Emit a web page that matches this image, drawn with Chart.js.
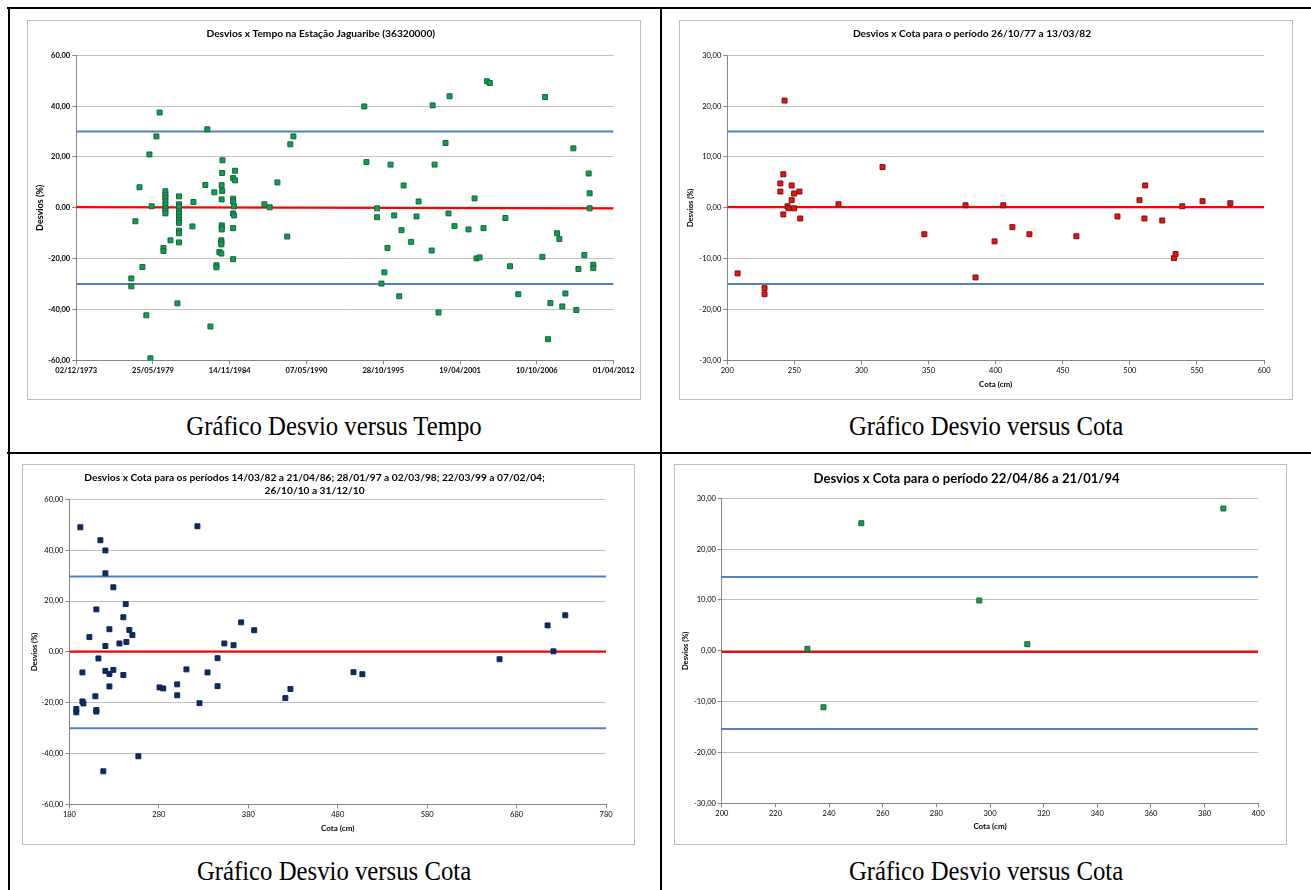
<!DOCTYPE html>
<html>
<head>
<meta charset="utf-8">
<script src="https://cdn.jsdelivr.net/npm/chart.js@4.4.1/dist/chart.umd.min.js"></script>
<style>
body { margin: 0; background: #fff; }
#page { position: relative; width: 1311px; height: 890px; overflow: hidden; background: #fff; }
.rule { position: absolute; background: #000; }
.box { position: absolute; border: 1px solid #bcbcbc; box-sizing: border-box; }
.box canvas { position: absolute; left: 0; top: 0; }
.cap { position: absolute; font-family: "Liberation Serif", serif; font-size: 27.5px; line-height: 1;
       white-space: nowrap; color: #000; transform: translateX(-50%) scaleX(0.9); }
</style>
</head>
<body>
<div id="page">
  <div class="rule" style="left:7px;top:6.5px;width:1304px;height:2px"></div>
  <div class="rule" style="left:7.5px;top:7px;width:2px;height:883px"></div>
  <div class="rule" style="left:659.5px;top:7px;width:2px;height:883px"></div>
  <div class="rule" style="left:7px;top:451.5px;width:1304px;height:2px"></div>

  <div class="box" style="left:27px;top:20px;width:614px;height:380px"><canvas id="c1" width="612" height="378"></canvas></div>
  <div class="box" style="left:679px;top:20px;width:614px;height:380px"><canvas id="c2" width="612" height="378"></canvas></div>
  <div class="box" style="left:22px;top:464px;width:613px;height:381px"><canvas id="c3" width="611" height="379"></canvas></div>
  <div class="box" style="left:674px;top:464px;width:613px;height:381px"><canvas id="c4" width="611" height="379"></canvas></div>

  <div class="cap" style="left:334px;top:412px">Gráfico Desvio versus Tempo</div>
  <div class="cap" style="left:986px;top:412px">Gráfico Desvio versus Cota</div>
  <div class="cap" style="left:334px;top:857px">Gráfico Desvio versus Cota</div>
  <div class="cap" style="left:986px;top:857px">Gráfico Desvio versus Cota</div>
</div>
<script>
// grafico 1: desvios x tempo (datas em anos decimais)
let anos1 = [
  1977.85, 1977.85, 1978.14, 1978.43, 1978.64, 1978.92, 1979.14, 1979.21, 1979.30, 1979.64, 1979.87,
  1980.14, 1980.14, 1980.28, 1980.28, 1980.28, 1980.28, 1980.28, 1980.28, 1980.28, 1980.28, 1980.64,
  1981.14, 1981.25, 1981.25, 1981.25, 1981.25, 1981.25, 1981.25, 1981.25, 1981.25, 1981.25, 1981.25, 1981.25,
  1982.21, 1982.28, 1983.13, 1983.27, 1983.49, 1983.77, 1983.92, 1983.92, 1984.13, 1984.27,
  1984.27, 1984.27, 1984.27, 1984.30, 1984.30, 1984.30, 1984.35, 1984.33, 1984.29, 1984.33, 1984.29,
  1985.25, 1985.11, 1985.25, 1985.11, 1985.11, 1985.18, 1985.11, 1985.18, 1985.11, 1985.11,
  1987.34, 1987.72, 1988.27, 1988.97, 1989.19, 1989.41,
  1994.47, 1994.62, 1995.38, 1995.38, 1995.90, 1995.69, 1996.12, 1996.34, 1996.60, 1996.96,
  1997.12, 1997.27, 1997.81, 1998.19, 1998.34, 1999.27, 1999.34, 1999.48, 1999.76, 2000.26,
  2000.47, 2000.55, 2000.90, 2001.90, 2002.33, 2002.47, 2002.69, 2002.97, 2003.22, 2003.42,
  2004.53, 2004.86, 2005.45, 2007.17, 2007.36, 2007.57, 2007.74, 2008.21, 2008.38, 2008.59,
  2008.81, 2009.38, 2009.59, 2009.74, 2010.16, 2010.47, 2010.54, 2010.54, 2010.80, 2010.80
];
let desvios1 = [
  -27.8, -30.9, -5.3, 8.1, -23.3, -42.3, 21.0, -59.2, 0.6, 28.1, 37.5,
  -15.8, -17.0, 6.5, 5.2, 3.9, 2.6, 1.2, -0.1, -1.1, -2.2, -12.8,
  -37.6, 4.5, 1.4, 0.4, -1.2, -2.2, -3.5, -4.8, -5.9, -9.0, -10.0, -13.6,
  -7.3, 2.3, 9.0, 30.9, -46.7, 6.1, -22.6, -23.4, -17.4, -18.0,
  -12.8, -13.6, -14.4, -6.9, -7.7, -8.5, 18.7, 13.7, 8.9, 6.6, 3.3,
  14.6, 11.7, 10.8, 3.6, 2.5, 0.6, -2.2, -3.0, -8.0, -20.2,
  1.4, 0.2, 10.0, -11.3, 25.0, 28.1,
  39.9, 18.0, -0.2, -3.7, -25.4, -29.8, -15.8, 17.0, -3.0, -34.8,
  -8.8, 8.8, -13.4, -3.4, 2.5, -16.8, 40.3, 17.0, -41.2, 25.5,
  -2.2, 43.9, -7.2, -8.5, 3.7, -19.9, -19.5, -8.0, 49.8, 49.1,
  -4.0, -23.0, -34.0, -19.3, 43.6, -51.7, -37.5, -10.0, -12.3, -38.8,
  -33.7, 23.4, -40.2, -24.1, -18.6, 13.5, 5.7, -0.2, -22.4, -23.7
];
let datasEixo1 = ['02/12/1973', '25/05/1979', '14/11/1984', '07/05/1990', '28/10/1995', '19/04/2001', '10/10/2006', '01/04/2012'];
let limites1 = [30, -30];
let tendencia1 = [0.3, -0.2];

// grafico 2: periodo 26/10/77 a 13/03/82
let cota2 = [
  207.7, 227.8, 227.8, 239.6, 239.6, 241.8, 241.8, 242.7, 244.9, 245.8, 248.0, 248.0,
  249.8, 249.8, 253.8, 254.4, 282.9, 315.7, 346.9, 377.6, 385.0, 399.2, 405.7, 412.5,
  425.2, 460.2, 490.8, 507.2, 510.9, 511.5, 524.2, 532.9, 534.1, 539.1, 554.2, 574.9
];
let desvios2 = [
  -12.9, -15.8, -17.0, 4.8, 3.2, 6.6, -1.3, 21.1, 0.3, -0.1, 4.4, 1.5,
  2.8, -0.1, 3.2, -2.1, 0.7, 8.0, -5.2, 0.5, -13.7, -6.6, 0.5, -3.8,
  -5.2, -5.6, -1.7, 1.5, -2.1, 4.4, -2.5, -9.9, -9.1, 0.3, 1.3, 0.9
];
let limites2 = [15, -15];
let tendencia2 = [0.15, 0.15];

// grafico 3: periodos 14/03/82 a 21/04/86; 28/01/97 a 02/03/98; 22/03/99 a 07/02/04; 26/10/10 a 31/12/10
let cota3 = [
  192.2, 214.6, 220.2, 220.2, 229.1, 242.9, 210.1, 240.3, 224.7, 247.0, 250.4, 202.3,
  235.9, 243.7, 220.2, 212.4, 194.5, 220.2, 229.1, 224.7, 240.3, 224.7, 209.0, 194.5,
  195.6, 187.7, 187.7, 210.1, 210.1, 257.1, 217.9,
  280.7, 284.9, 300.5, 300.5, 310.8, 323.1, 325.4, 334.4, 345.6, 345.6, 353.2, 363.5,
  372.0, 386.6, 421.4, 427.1, 497.6, 507.5, 660.9, 714.6, 721.2, 734.4
];
let desvios3 = [
  49.0, 43.9, 39.9, 30.9, 25.4, 18.8, 16.7, 13.6, 8.9, 8.6, 6.6, 5.8,
  3.3, 3.9, 2.3, -2.6, -8.1, -7.5, -7.1, -8.7, -9.1, -13.6, -17.5, -19.5,
  -20.3, -22.5, -23.8, -22.9, -23.5, -41.1, -47.0,
  -14.0, -14.4, -12.8, -17.1, -6.9, 49.4, -20.2, -8.1, -2.5, -13.5, 3.3, 2.6,
  11.6, 8.5, -18.2, -14.6, -8.0, -8.8, -2.9, 10.4, 0.2, 14.4
];
let limites3 = [29.6, -30.1];
let tendencia3 = [0.1, 0.1];

// grafico 4: periodo 22/04/86 a 21/01/94
let cota4 = [231.9, 237.9, 252.0, 296.0, 313.9, 387.0];
let desvios4 = [0.4, -11.1, 25.1, 9.9, 1.3, 28.0];
let limites4 = [14.5, -15.4];
let tendencia4 = [-0.2, -0.2];

Chart.defaults.font.family = 'Lato, "Open Sans", sans-serif';
Chart.defaults.animation = false;

function anoDecimal(s) {
  let p = s.split('/').map(Number);
  let ini = Date.UTC(p[2], 0, 1), fim = Date.UTC(p[2] + 1, 0, 1);
  return p[2] + (Date.UTC(p[2], p[1] - 1, p[0]) - ini) / (fim - ini);
}

function pares(xs, ys) {
  return xs.map(function (x, i) { return { x: x, y: ys[i] }; });
}

function reta(x0, x1, y0, y1, cor, w) {
  return {
    data: [{ x: x0, y: y0 }, { x: x1, y: y1 }],
    showLine: true, borderColor: cor, borderWidth: w, pointRadius: 0, order: 2
  };
}

function virgula(v) { return v.toFixed(2).replace('.', ','); }

function grafico(id, o) {
  let negrito = o.tickBold ? 'bold' : 'normal';
  let datasets = [
    reta(o.xmin, o.xmax, o.lim[0], o.lim[0], '#4f81bd', 2),
    reta(o.xmin, o.xmax, o.lim[1], o.lim[1], '#4f81bd', 2),
    reta(o.xmin, o.xmax, o.tend[0], o.tend[1], '#ff0000', 2.2),
    {
      data: pares(o.xs, o.ys), pointStyle: 'rect', pointRadius: 3.5,
      backgroundColor: o.fill, borderColor: o.edge, borderWidth: 1, order: 1
    }
  ];
  let xScale = {
    type: 'linear', min: o.xmin, max: o.xmax,
    grid: { drawOnChartArea: false, tickLength: 4, tickColor: '#868686' },
    border: { color: '#868686' },
    ticks: { autoSkip: false, maxRotation: 0, padding: 2, color: '#000',
             font: { size: 7.5, weight: negrito } },
    afterFit: function (s) { s.height = o.xh; s.paddingLeft = 0; s.paddingRight = 0; }
  };
  if (o.xstep) xScale.ticks.stepSize = o.xstep;
  if (o.xticks) {
    xScale.afterBuildTicks = function (s) {
      s.ticks = o.xticks.map(function (t) { return { value: anoDecimal(t) }; });
    };
    xScale.ticks.callback = function (v, i) { return o.xticks[i]; };
  }
  if (o.xtitle) {
    xScale.title = { display: true, text: o.xtitle, color: '#000',
                     font: { size: 8, weight: 'bold' }, padding: { top: 0, bottom: o.xtpad } };
  }
  new Chart(document.getElementById(id), {
    type: 'scatter',
    data: { datasets: datasets },
    options: {
      responsive: false, devicePixelRatio: 1,
      layout: { padding: { left: 0, top: 0, right: o.rpad, bottom: 0 } },
      plugins: {
        legend: { display: false }, tooltip: { enabled: false },
        title: { display: true, text: o.title, color: '#000',
                 font: { size: o.tsize, weight: 'bold', lineHeight: o.tlh },
                 padding: { top: o.tpad[0], bottom: o.tpad[1] } }
      },
      scales: {
        x: xScale,
        y: {
          min: o.ymin, max: o.ymax,
          grid: { color: '#c0c0c0', tickLength: 4, tickColor: '#868686' },
          border: { color: '#868686' },
          ticks: { stepSize: o.ystep, padding: 2, color: '#000', callback: virgula,
                   font: { size: 7.5, weight: negrito } },
          title: { display: true, text: 'Desvios (%)', color: '#000',
                   font: { size: o.ytsize, weight: 'bold' }, padding: { top: o.ytpad, bottom: 0 } },
          afterFit: function (s) { s.width = o.yw; s.paddingTop = 0; s.paddingBottom = 0; }
        }
      }
    }
  });
}

grafico('c1', {
  title: 'Desvios x Tempo na Estação Jaguaribe (36320000)', tsize: 10.2, tlh: 1.2, tpad: [6.2, 15.9],
  xs: anos1, ys: desvios1, fill: '#00a651', edge: '#21603a',
  xmin: anoDecimal(datasEixo1[0]), xmax: anoDecimal(datasEixo1[datasEixo1.length - 1]), xticks: datasEixo1,
  ymin: -60, ymax: 60, ystep: 20, lim: limites1, tend: tendencia1,
  yw: 48.2, xh: 38.7, rpad: 26.4, tickBold: true, ytsize: 9, ytpad: 6.8
});

grafico('c2', {
  title: 'Desvios x Cota para o período 26/10/77 a 13/03/82', tsize: 10.2, tlh: 1.2, tpad: [6.2, 15.9],
  xs: cota2, ys: desvios2, fill: '#ee1111', edge: '#7a1010',
  xmin: 200, xmax: 600, xstep: 50, xtitle: 'Cota (cm)', xtpad: 9.9,
  ymin: -30, ymax: 30, ystep: 10, lim: limites2, tend: tendencia2,
  yw: 47.25, xh: 38.7, rpad: 28, tickBold: false, ytsize: 7.5, ytpad: 6.5
});

grafico('c3', {
  title: ['Desvios x Cota para os períodos 14/03/82 a 21/04/86; 28/01/97 a 02/03/98; 22/03/99 a 07/02/04;', '26/10/10 a 31/12/10'],
  tsize: 10.2, tlh: 1.304, tpad: [6.05, 1.7],
  xs: cota3, ys: desvios3, fill: '#0d2a5c', edge: '#0d2a5c',
  xmin: 180, xmax: 780, xstep: 100, xtitle: 'Cota (cm)', xtpad: 10.9,
  ymin: -60, ymax: 60, ystep: 20, lim: limites3, tend: tendencia3,
  yw: 46.44, xh: 39.67, rpad: 27.94, tickBold: false, ytsize: 7.5, ytpad: 7
});

grafico('c4', {
  title: 'Desvios x Cota para o período 22/04/86 a 21/01/94', tsize: 13.1, tlh: 1.2, tpad: [6.4, 11.2],
  xs: cota4, ys: desvios4, fill: '#00a651', edge: '#21603a',
  xmin: 200, xmax: 400, xstep: 20, xtitle: 'Cota (cm)', xtpad: 12.9,
  ymin: -30, ymax: 30, ystep: 10, lim: limites4, tend: tendencia4,
  yw: 46.85, xh: 40.7, rpad: 27.8, tickBold: false, ytsize: 7.5, ytpad: 6.2
});
</script>
</body>
</html>
